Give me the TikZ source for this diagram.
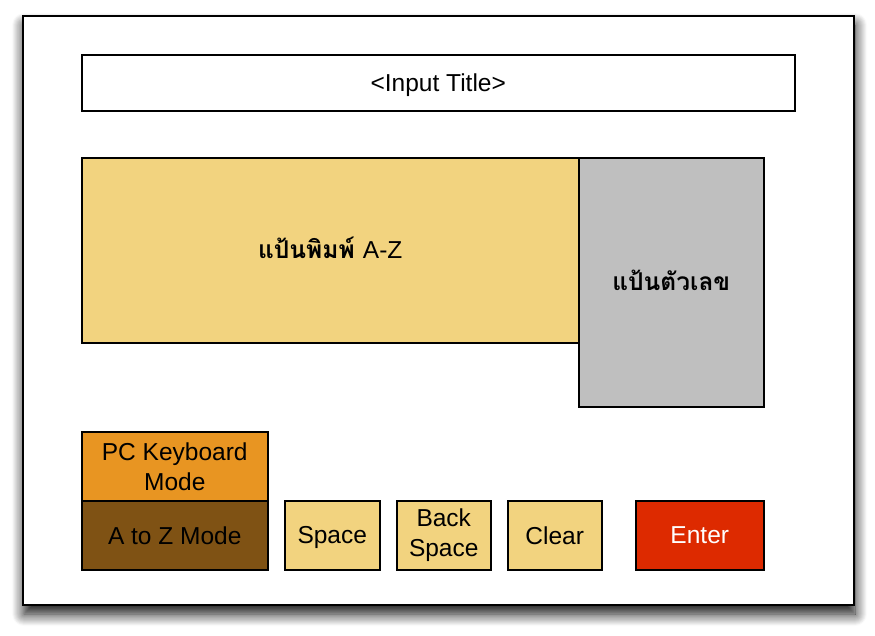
\documentclass[tikz,border=0pt]{standalone}
\usepackage{fontspec}
\setmainfont{Liberation Sans}
\newfontfamily\thaifont[Script=Thai]{Loma}
\usetikzlibrary{shadows.blur}
\definecolor{keyyellow}{HTML}{F2D37F}
\definecolor{numgray}{HTML}{BFBFBF}
\definecolor{pcorange}{HTML}{E89522}
\definecolor{azbrown}{HTML}{7F5214}
\definecolor{enterred}{HTML}{DD2A00}
\tikzset{
  key/.style={draw, line width=1.5pt, inner sep=0pt, anchor=north west,
    align=center, font=\fontsize{24.5}{30}\selectfont},
  thaikey/.style={key, text height=16pt, text depth=0pt,
    font=\thaifont\bfseries\fontsize{24.5}{30}\selectfont}
}
\begin{document}
\begin{tikzpicture}[x=1pt,y=-1pt]
\useasboundingbox (0,0) rectangle (875,635);
% screen frame
\node[draw, line width=2pt, fill=white, anchor=north west,
  minimum width=831pt, minimum height=589pt,
  blur shadow={shadow xshift=1pt, shadow yshift=-9pt,
    shadow blur radius=12pt, shadow blur steps=12, shadow opacity=95}]
  (frame) at (22,15) {};
\node[key, fill=white, text depth=0pt, minimum width=713pt, minimum height=56pt]
  (title) at (81,54) {<Input Title>};
% keyboards
\node[thaikey, fill=keyyellow, minimum width=497pt, minimum height=185pt]
  (alpha) at (81,157) {แป้นพิมพ์ {\normalfont\fontsize{24.5}{30}\selectfont A-Z}};
\node[thaikey, fill=numgray, minimum width=185pt, minimum height=249pt]
  (numpad) at (578,157) {แป้นตัวเลข};
% mode and edit keys
\node[key, fill=pcorange, minimum width=186pt, minimum height=69pt]
  (pcmode) at (81,431) {PC Keyboard\\Mode};
\node[key, fill=azbrown, minimum width=186pt, minimum height=69pt]
  (azmode) at (81,500) {A to Z Mode};
\node[key, fill=keyyellow, text depth=0pt, minimum width=95pt, minimum height=69pt]
  (space) at (284,500) {Space};
\node[key, fill=keyyellow, minimum width=94pt, minimum height=69pt]
  (backspace) at (396,500) {Back\\Space};
\node[key, fill=keyyellow, minimum width=94pt, minimum height=69pt]
  (clear) at (507,500) {Clear};
\node[key, fill=enterred, text=white, minimum width=128pt, minimum height=69pt]
  (enter) at (635,500) {Enter};
\end{tikzpicture}
\end{document}
